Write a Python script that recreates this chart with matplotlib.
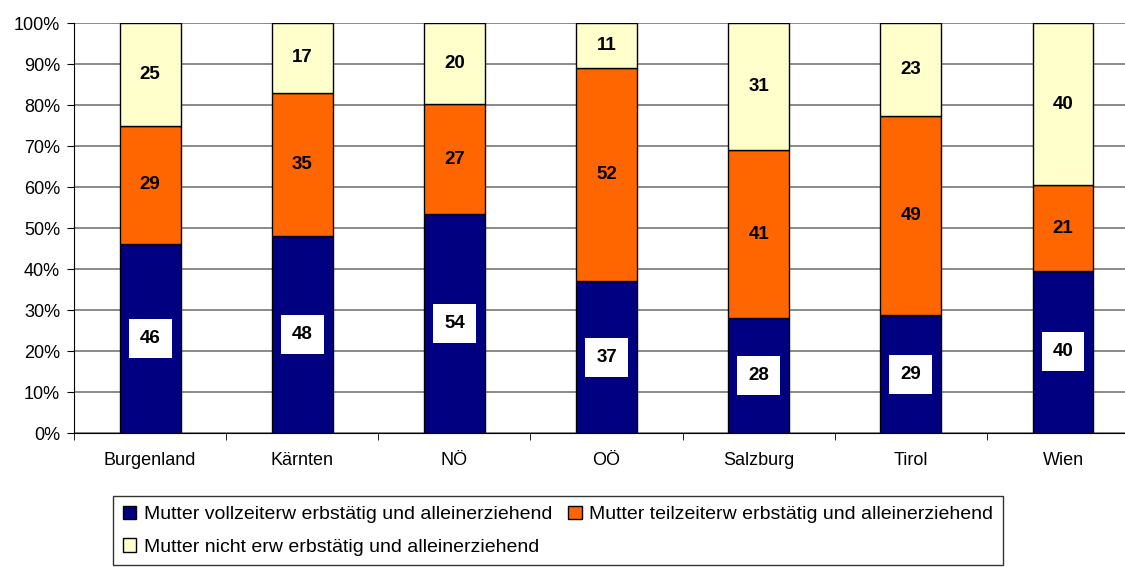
import numpy as np
import matplotlib.pyplot as plt
from matplotlib.ticker import FuncFormatter

plt.rcParams['font.family'] = ['Liberation Sans', 'DejaVu Sans']

regions = ["Burgenland", "Kärnten", "NÖ", "OÖ", "Salzburg", "Tirol", "Wien"]
vollzeit = [46, 48, 54, 37, 28, 29, 40]
teilzeit = [29, 35, 27, 52, 41, 49, 21]
nicht_erw = [25, 17, 20, 11, 31, 23, 40]
series_names = ["Mutter vollzeiterw erbstätig und alleinerziehend",
                "Mutter teilzeiterw erbstätig und alleinerziehend",
                "Mutter nicht erw erbstätig und alleinerziehend"]
colors = ["#000080", "#FF6600", "#FFFFCC"]

data = np.array([vollzeit, teilzeit, nicht_erw], dtype=float)
share = data / data.sum(axis=0) * 100

fig = plt.figure(figsize=(11.25, 5.67), dpi=100)
ax = fig.add_axes([0.0658, 0.2363, 0.9467, 0.7231])

x = np.arange(len(regions))
bottom = np.zeros(len(regions))
handles = []
for i in range(3):
    b = ax.bar(x, share[i], 0.4, bottom=bottom, color=colors[i],
               edgecolor="black", linewidth=1, zorder=3, label=series_names[i])
    handles.append(b)
    for j in range(len(regions)):
        yc = bottom[j] + share[i][j] / 2
        if i == 0:
            ax.text(x[j], yc, str(int(data[i][j])), ha="center", va="center",
                    fontsize=13.5, fontweight="bold", zorder=4,
                    bbox=dict(facecolor="white", edgecolor="none", pad=8))
        else:
            ax.text(x[j], yc, str(int(data[i][j])), ha="center", va="center",
                    fontsize=13.5, fontweight="bold", zorder=4)
    bottom += share[i]

ax.set_xlim(-0.5, 6.5)
ax.set_ylim(0, 100)
ax.set_yticks(np.arange(0, 101, 10))
ax.yaxis.set_major_formatter(FuncFormatter(lambda v, p: f"{int(v)}%"))
ax.grid(axis="y", color="#777777", linewidth=1.2, zorder=0)
ax.set_xticks(x)
ax.set_xticklabels(regions)
ax.set_xticks(np.arange(-0.5, 7, 1), minor=True)
ax.tick_params(axis="x", which="major", length=0, pad=14, labelsize=13)
ax.tick_params(axis="x", which="minor", length=5, direction="out")
ax.tick_params(axis="y", length=5, direction="out", labelsize=13, pad=5)
for s in ["top", "right"]:
    ax.spines[s].set_visible(False)

# row-wise order for ncol=2
order = [0, 2, 1]
leg = fig.legend(handles=[handles[k] for k in order], loc="upper left",
                 bbox_to_anchor=(113 / 1125, 1 - 496 / 567), borderaxespad=0,
                 ncol=2, fontsize=14, frameon=True, fancybox=False, edgecolor="black",
                 handlelength=0.7, handleheight=0.7, handletextpad=0.4, columnspacing=0.8,
                 labelspacing=0.75, borderpad=0.5)
leg.get_frame().set_linewidth(1)

plt.savefig("out.png", dpi=100)
